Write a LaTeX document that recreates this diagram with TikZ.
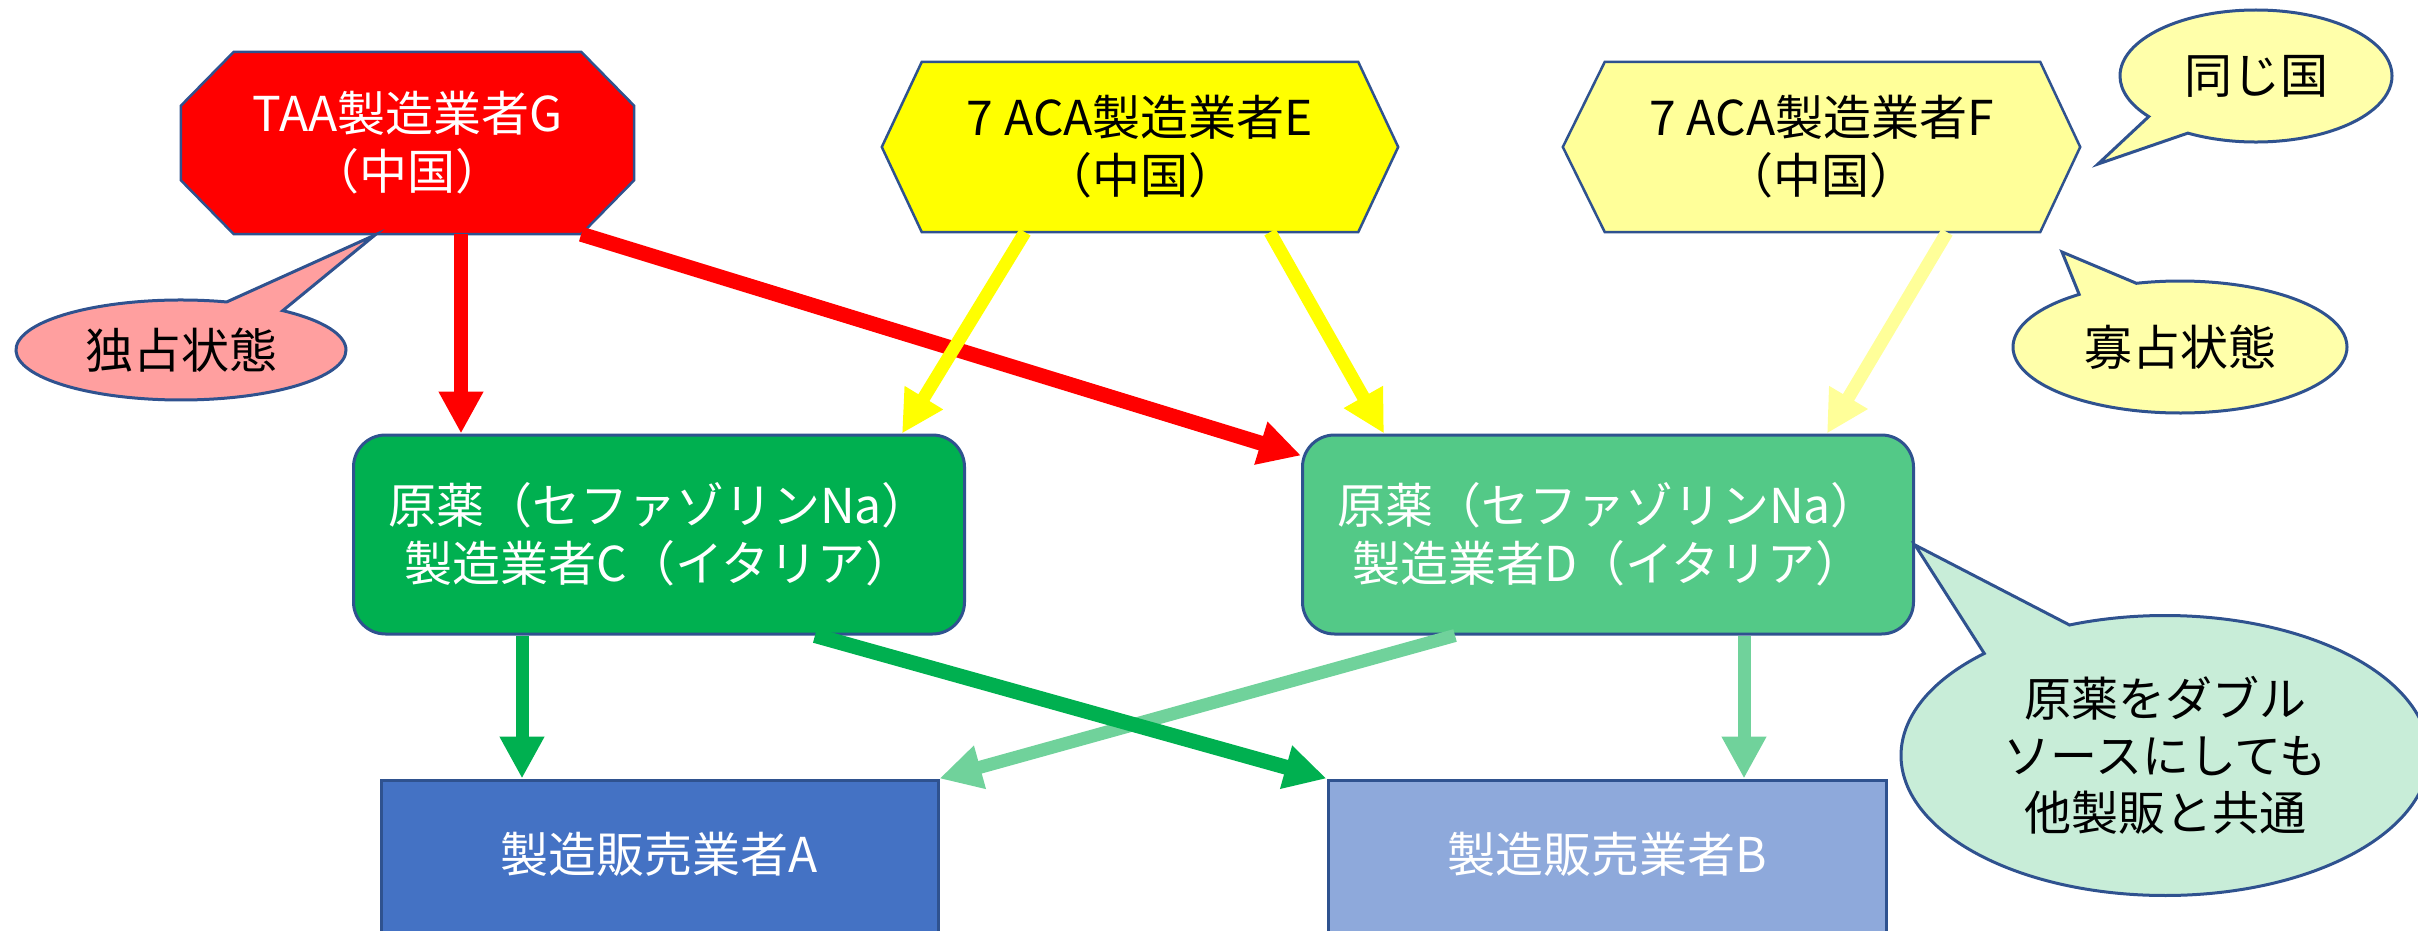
\documentclass[tikz,border=0pt]{standalone}
\usepackage{fontspec}
\setmainfont{Noto Sans CJK JP}
\usetikzlibrary{arrows.meta,shapes.callouts,backgrounds}
\definecolor{bord}{HTML}{2F528F}
\definecolor{redG}{HTML}{FF0000}
\definecolor{yelE}{HTML}{FFFF00}
\definecolor{yelF}{HTML}{FFFF99}
\definecolor{yelCall}{HTML}{FFFFAA}
\definecolor{pinkCall}{HTML}{FF9F9F}
\definecolor{greenC}{HTML}{00B050}
\definecolor{greenD}{HTML}{53C987}
\definecolor{greenArr}{HTML}{70D29B}
\definecolor{greenCall}{HTML}{C8EDD8}
\definecolor{blueA}{HTML}{4472C4}
\definecolor{blueB}{HTML}{8EA9DB}
\tikzset{
  lbl/.style={font=\fontsize{48pt}{58pt}\selectfont, align=center, inner sep=0pt},
  rbox/.style={lbl, text=white, draw=bord, line width=3pt, rounded corners=32pt,
    minimum width=611pt, minimum height=199pt},
  sbox/.style={lbl, text=white, draw=bord, line width=3pt,
    minimum width=557pt, minimum height=170pt, text height=40pt, text depth=25pt},
  bubble/.style={lbl, ellipse callout, draw=bord, line width=3pt, callout pointer arc=22},
  outl/.style={draw=bord, line width=2.5pt},
  arr/.style={-{Triangle[length=42pt,width=42pt]}}
}
\begin{document}
\begin{tikzpicture}[x=1pt,y=-1pt]
\useasboundingbox (0,0) rectangle (2418,931);

% supplier nodes (shapes drawn behind)
\node[lbl, text=white, minimum width=453pt, minimum height=182pt] (G) at (407.5,143) {TAA製造業者G\\（中国）};
\node[lbl, minimum width=516pt, minimum height=170pt] (E) at (1140,147) {7 ACA製造業者E\\（中国）};
\node[lbl, minimum width=517pt, minimum height=170pt] (F) at (1821.5,147) {7 ACA製造業者F\\（中国）};

\begin{scope}[on background layer]
\draw[outl, fill=redG] ([xshift=53pt]G.north west) -- ([xshift=-53pt]G.north east)
  -- ([yshift=-54pt]G.north east) -- ([yshift=54pt]G.south east)
  -- ([xshift=-53pt]G.south east) -- ([xshift=53pt]G.south west)
  -- ([yshift=54pt]G.south west) -- ([yshift=-54pt]G.north west) -- cycle;
\draw[outl, fill=yelE] (E.west) -- ([xshift=40pt]E.north west) -- ([xshift=-40pt]E.north east)
  -- (E.east) -- ([xshift=-40pt]E.south east) -- ([xshift=40pt]E.south west) -- cycle;
\draw[outl, fill=yelF] (F.west) -- ([xshift=42pt]F.north west) -- ([xshift=-40pt]F.north east)
  -- (F.east) -- ([xshift=-40pt]F.south east) -- ([xshift=42pt]F.south west) -- cycle;
\end{scope}

% API makers
\node[rbox, fill=greenC] (C) at (659,534.5) {原薬（セファゾリンNa）\\製造業者C（イタリア）};
\node[rbox, fill=greenD] (D) at (1608,534.5) {原薬（セファゾリンNa）\\製造業者D（イタリア）};

% MAHs
\node[sbox, fill=blueA] (A) at (659.5,865) {製造販売業者A};
\node[sbox, fill=blueB, minimum width=558pt] (B) at (1607,865) {製造販売業者B};

% callouts
\node[bubble, fill=pinkCall, minimum width=330pt, minimum height=100pt,
  callout absolute pointer={(375,235)}] (M) at (181,350) {独占状態};
\node[bubble, fill=yelCall, minimum width=272pt, minimum height=132pt,
  callout absolute pointer={(2098,164)}] (S) at (2256,76) {同じ国};
\node[bubble, fill=yelCall, minimum width=334pt, minimum height=132pt,
  callout absolute pointer={(2062,252)}] (O) at (2180,347) {寡占状態};
\node[bubble, fill=greenCall, minimum width=528pt, minimum height=280pt,
  callout absolute pointer={(1915,545)}, font=\fontsize{47pt}{57pt}\selectfont] (K) at (2165,755.5)
  {原薬をダブル\\ソースにしても\\他製販と共通};

% arrows
\draw[arr, draw=redG, fill=redG, line width=14pt] ([xshift=53.5pt]G.south) -- ([xshift=53.5pt]G.south |- C.north);
\draw[arr, draw=redG, fill=redG, line width=15pt] ([xshift=-53pt]G.south east) -- ([yshift=-22pt]D.north west);
\draw[arr, draw=yelE, fill=yelE, line width=13pt] ([xshift=-115pt]E.south) -- ([xshift=-64pt]C.north east);
\draw[arr, draw=yelE, fill=yelE, line width=13pt] ([xshift=130pt]E.south) -- ([xshift=83pt]D.north west);
\draw[arr, draw=yelF, fill=yelF, line width=13pt] ([xshift=125.5pt]F.south) -- ([xshift=-88pt]D.north east);
\draw[arr, draw=greenC, fill=greenC, line width=13pt] ([xshift=-137pt]C.south) -- ([xshift=-137pt]C.south |- A.north);
\draw[arr, draw=greenArr, fill=greenArr, line width=13pt] ([xshift=-153pt]D.south) -- (A.north east);
\draw[arr, draw=greenC, fill=greenC, line width=15pt] ([xshift=156pt]C.south) -- (B.north west);
\draw[arr, draw=greenArr, fill=greenArr, line width=13pt] ([xshift=136pt]D.south) -- ([xshift=136pt]D.south |- B.north);
\end{tikzpicture}
\end{document}
